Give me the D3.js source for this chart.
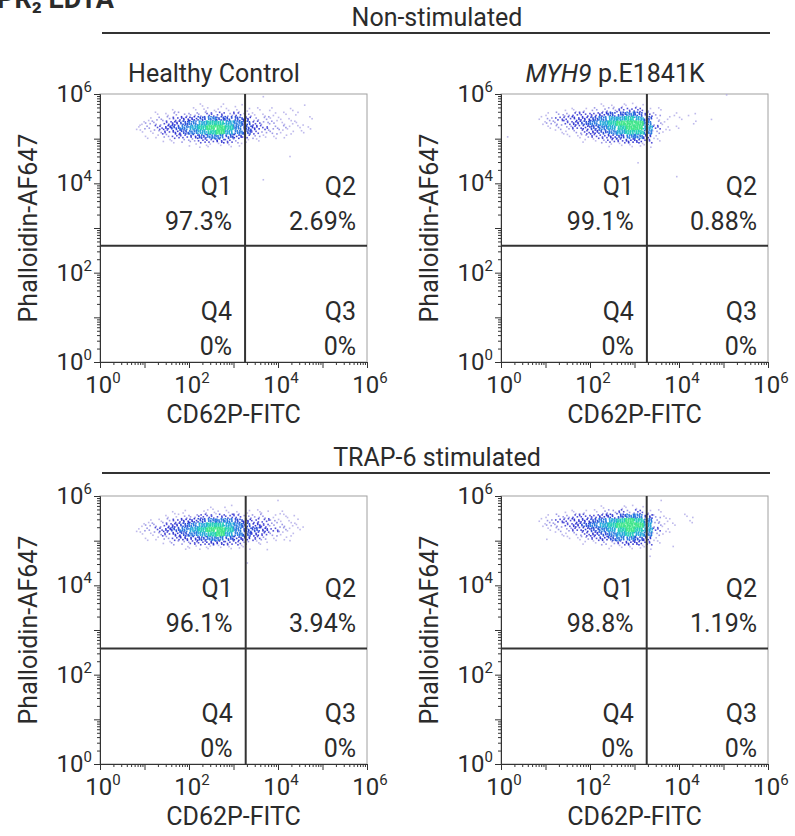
<!DOCTYPE html>
<html>
<head>
<meta charset="utf-8">
<script src="https://cdn.jsdelivr.net/npm/d3@7"></script>
<style>
  body { margin: 0; background: #fff; }
  svg text { font-family: Roboto, "Noto Sans", sans-serif; fill: #2b2b2b; }
</style>
</head>
<body>
<div id="container"></div>
<script>
/* DATA */
const figureTitle = "PR\u2082 EDTA";
const groupTitles = ["Non-stimulated", "TRAP-6 stimulated"];
const panelTitles = [["Healthy Control", ""], ["MYH9", " p.E1841K"], ["", ""], ["", ""]];
const xLabel = "CD62P-FITC";
const yLabel = "Phalloidin-AF647";
const labelExps = [0, 2, 4, 6];
const quadNames = ["Q1", "Q2", "Q4", "Q3"];
const quadPct = [
  ["97.3%", "2.69%", "0%", "0%"],
  ["99.1%", "0.88%", "0%", "0%"],
  ["96.1%", "3.94%", "0%", "0%"],
  ["98.8%", "1.19%", "0%", "0%"]
];
// quadrant gate positions (linear units)
const gateX = [1820, 1900, 1880, 1880];
const gateY = [400, 400, 385, 385];

// density grids: log10 x bins from 0.8 step 0.2,
// log10 y rows from 5.8 downward step 0.1, digit = density level 0..9
const densityP1 = [
  "00000001010100000000",
  "00001011111111010100",
  "00112222332321111010",
  "01223445655542211101",
  "12234567887653221110",
  "12345678998654322111",
  "11234567897653221110",
  "01123345665432111000",
  "00011223343211000000",
  "00000011111100000000"
];
const densityP2 = [
  "00000001111100000000",
  "00011122233311000000",
  "01223334556532010100",
  "12334456778751101000",
  "12234567899962100100",
  "01223456789973110000",
  "00112345678862100000",
  "00011233456641000000",
  "00000112334431000000",
  "00000000111110000000"
];
const densityP3 = [
  "00000000101000000000",
  "00001101111111101000",
  "00011223333322211100",
  "01123445666543321100",
  "12234567887654322110",
  "12345678998655432110",
  "11234567897654321100",
  "01123445665443211000",
  "00012233443321100000",
  "00000111111110000000"
];
const densityP4 = [
  "00000001011100000000",
  "00011112232311000000",
  "01223334456642101000",
  "12334456789862100100",
  "12234567899972110000",
  "01223456789873100000",
  "00112345678762100000",
  "00011234566541000000",
  "00000112234431000000",
  "00000000111110000000"
];
const densities = [densityP1, densityP2, densityP3, densityP4];

// stray events outside the main cloud [log10 x, log10 y]
const outliers = [
  [[4.27, 4.6], [3.67, 4.08], [3.67, 5.94], [4.6, 5.75], [0.9, 5.3]],
  [[3.95, 4.15], [3.08, 4.46], [4.73, 5.43], [0.15, 5.04], [5.07, 5.98]],
  [[3.76, 4.8], [4.27, 5.0], [4.45, 5.48], [3.31, 4.5], [4.0, 5.9]],
  [[4.31, 5.52], [3.87, 4.87], [3.35, 4.65], [1.03, 5.03], [3.6, 5.9]]
];

const binX0 = 0.8, binW = 0.2, binTop = 5.8, binH = 0.1;
const levelCount = [0, 2, 3, 5, 7, 10, 13, 16, 20, 24];
const levelColor = ["#fff", "#a9a3e6", "#7c78de", "#4a48d6", "#2b2fd0",
  "#2446d6", "#2274de", "#1fa6d9", "#22cdb8", "#3fe68a"];

/* LAYOUT */
const W = 795, H = 836;
const colX = [100, 501], rowY = [94, 496];
const pw = 267, ph = 268;
const fs = 25;

const svg = d3.select("#container").append("svg")
  .attr("width", W).attr("height", H);

// figure title, mostly cut off at the top as in the source image
svg.append("text")
  .attr("x", -3).attr("y", 8)
  .attr("font-size", 27).attr("font-weight", "bold")
  .text(figureTitle);

// group headers with rule
groupTitles.forEach((t, i) => {
  const ly = i === 0 ? 33 : 473;
  svg.append("text")
    .attr("x", 437).attr("y", ly - 7)
    .attr("text-anchor", "middle")
    .attr("font-size", fs)
    .text(t);
  svg.append("line")
    .attr("x1", 102).attr("x2", 770)
    .attr("y1", ly).attr("y2", ly)
    .attr("stroke", "#333").attr("stroke-width", 2);
});

const decades = d3.range(0, 7).map(e => Math.pow(10, e));
const minors = [];
d3.range(0, 6).forEach(e => d3.range(2, 10).forEach(m => minors.push(m * Math.pow(10, e))));

densities.forEach((grid, p) => {
  const x0 = colX[p % 2], y0 = rowY[Math.floor(p / 2)];
  const x = d3.scaleLog().domain([1, 1e6]).range([x0, x0 + pw]);
  const y = d3.scaleLog().domain([1, 1e6]).range([y0 + ph, y0]);
  const g = svg.append("g");

  // clip
  const cid = "clip" + p;
  g.append("clipPath").attr("id", cid)
    .append("rect").attr("x", x0).attr("y", y0).attr("width", pw).attr("height", ph);

  // frame
  g.append("rect")
    .attr("x", x0).attr("y", y0).attr("width", pw).attr("height", ph)
    .attr("fill", "none").attr("stroke", "#a0a0a0").attr("stroke-width", 1);

  // events: dots spread evenly inside each density bin
  const dots = [];
  grid.forEach((row, r) => {
    row.split("").forEach((ch, c) => {
      const lvl = +ch;
      for (let k = 0; k < levelCount[lvl]; k++) {
        const u = (0.31 + c * 0.173 + r * 0.411 + k * 0.7548777) % 1;
        const v = (0.67 + c * 0.287 + r * 0.137 + k * 0.5698403) % 1;
        dots.push({
          lx: binX0 + (c + u) * binW,
          ly: binTop - (r + v) * binH,
          lvl: lvl
        });
      }
    });
  });
  outliers[p].forEach(o => dots.push({ lx: o[0], ly: o[1], lvl: 1 }));
  dots.sort((a, b) => a.lvl - b.lvl);

  g.append("g").attr("clip-path", `url(#${cid})`)
    .selectAll("rect")
    .data(dots)
    .join("rect")
    .attr("x", d => x(Math.pow(10, d.lx)) - 0.8)
    .attr("y", d => y(Math.pow(10, d.ly)) - 0.8)
    .attr("width", 1.6).attr("height", 1.6)
    .attr("fill", d => levelColor[d.lvl])
    .attr("opacity", d => d.lvl < 3 ? 0.75 : 0.95);

  // quadrant gates
  g.append("line")
    .attr("x1", x(gateX[p])).attr("x2", x(gateX[p]))
    .attr("y1", y0).attr("y2", y0 + ph)
    .attr("stroke", "#333").attr("stroke-width", 2);
  g.append("line")
    .attr("x1", x0).attr("x2", x0 + pw)
    .attr("y1", y(gateY[p])).attr("y2", y(gateY[p]))
    .attr("stroke", "#333").attr("stroke-width", 2);

  // quadrant labels
  const gx = x(gateX[p]);
  const qx = [gx - 13, x0 + pw - 11, gx - 13, x0 + pw - 11];
  const qy = [y0 + 101, y0 + 101, y0 + ph - 42, y0 + ph - 42];
  quadNames.forEach((q, i) => {
    g.append("text").attr("x", qx[i]).attr("y", qy[i])
      .attr("text-anchor", "end").attr("font-size", fs).text(q);
    g.append("text").attr("x", qx[i]).attr("y", qy[i] + 35)
      .attr("text-anchor", "end").attr("font-size", fs).text(quadPct[p][i]);
  });

  // axes: major and minor ticks
  const axStyle = sel => {
    sel.select(".domain").attr("stroke", "#333");
    sel.selectAll(".tick line").attr("stroke", "#333");
  };
  g.append("g").attr("transform", `translate(0,${y0 + ph})`)
    .call(d3.axisBottom(x).tickValues(minors).tickSize(3).tickSizeOuter(0).tickFormat(""))
    .call(axStyle);
  g.append("g").attr("transform", `translate(0,${y0 + ph})`)
    .call(d3.axisBottom(x).tickValues(decades).tickSize(6).tickSizeOuter(0).tickFormat(""))
    .call(axStyle);
  g.append("g").attr("transform", `translate(${x0},0)`)
    .call(d3.axisLeft(y).tickValues(minors).tickSize(3).tickSizeOuter(0).tickFormat(""))
    .call(axStyle);
  g.append("g").attr("transform", `translate(${x0},0)`)
    .call(d3.axisLeft(y).tickValues(decades).tickSize(6).tickSizeOuter(0).tickFormat(""))
    .call(axStyle);

  // tick labels 10^n
  labelExps.forEach(e => {
    const v = Math.pow(10, e);
    const tx = g.append("text")
      .attr("x", x(v) + 3).attr("y", y0 + ph + 31)
      .attr("text-anchor", "middle").attr("font-size", fs - 1);
    tx.append("tspan").text("10");
    tx.append("tspan").attr("dy", -10).attr("font-size", 15).text(e);
    const ty = g.append("text")
      .attr("x", x0 - 8).attr("y", y(v) + 8)
      .attr("text-anchor", "end").attr("font-size", fs - 1);
    ty.append("tspan").text("10");
    ty.append("tspan").attr("dy", -10).attr("font-size", 15).text(e);
  });

  // axis titles
  g.append("text")
    .attr("x", x0 + pw / 2).attr("y", y0 + ph + 61)
    .attr("text-anchor", "middle").attr("font-size", fs)
    .text(xLabel);
  g.append("text")
    .attr("transform", `translate(${x0 - 63},${y0 + ph / 2}) rotate(-90)`)
    .attr("text-anchor", "middle").attr("font-size", fs)
    .text(yLabel);

  // panel title
  const pt = panelTitles[p];
  if (pt[0] || pt[1]) {
    const t = g.append("text")
      .attr("x", x0 + 114).attr("y", y0 - 12)
      .attr("text-anchor", "middle").attr("font-size", fs);
    if (p === 1) {
      t.append("tspan").attr("font-style", "italic").text(pt[0]);
      t.append("tspan").text(pt[1]);
    } else {
      t.text(pt[0]);
    }
  }
});
</script>
</body>
</html>
